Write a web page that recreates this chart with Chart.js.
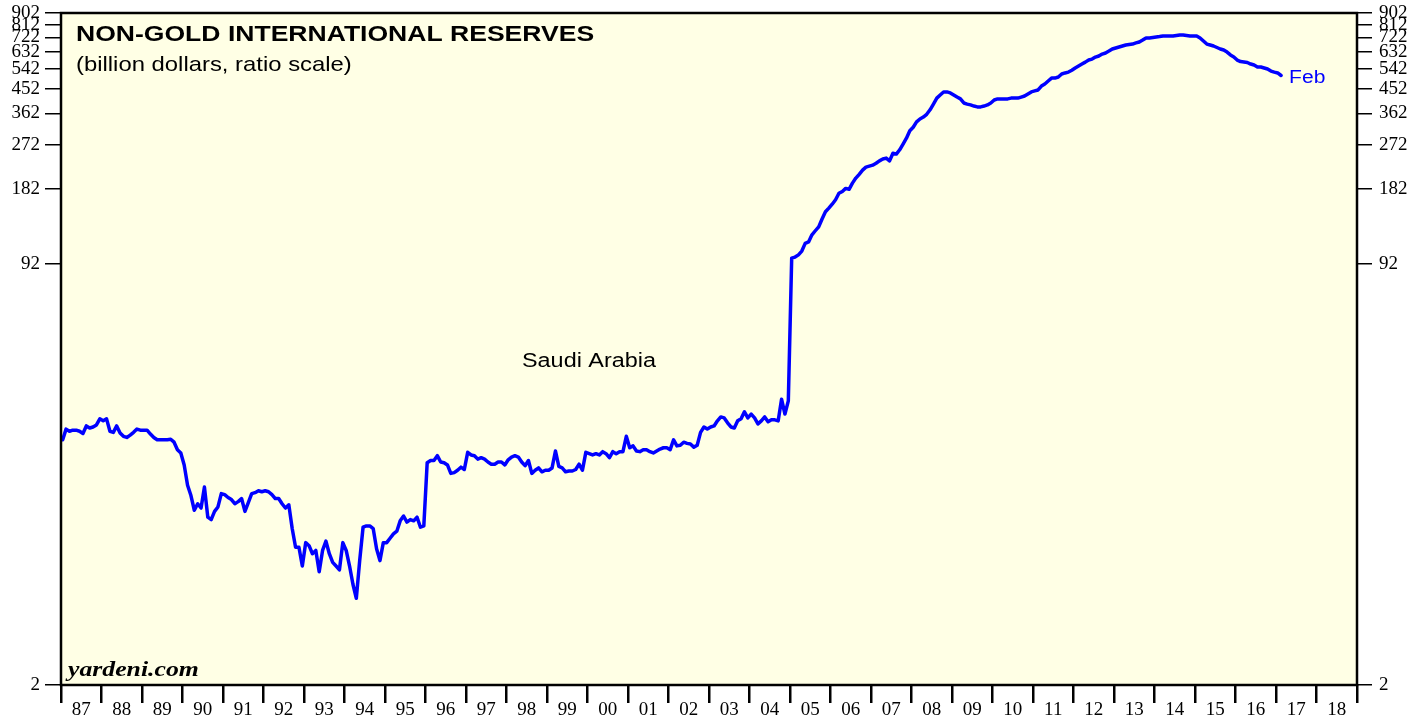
<!DOCTYPE html>
<html>
<head>
<meta charset="utf-8">
<title>Non-Gold International Reserves: Saudi Arabia</title>
<script src="https://cdn.jsdelivr.net/npm/chart.js@4.4.1/dist/chart.umd.min.js"></script>
<style>
  html, body { margin: 0; padding: 0; background: #ffffff; }
  #chart { display: block; }
</style>
</head>
<body>
<canvas id="chart" width="1427" height="717"></canvas>
<script>
// Monthly series starts in January of this year
const firstYear = 1987;

// Year labels along the bottom axis
const yearLabels = ['87', '88', '89', '90', '91', '92', '93', '94', '95', '96', '97',
  '98', '99', '00', '01', '02', '03', '04', '05', '06', '07', '08', '09', '10',
  '11', '12', '13', '14', '15', '16', '17', '18'];

// Ratio-scale tick values (billion dollars)
const yTickValues = [2, 92, 182, 272, 362, 452, 542, 632, 722, 812, 902];

// Saudi Arabia non-gold international reserves, billion dollars, monthly Jan 1987 - Feb 2017
const reserves = [
  18.6, 20.5, 20.1, 20.3, 20.3, 20.1, 19.7, 21.1, 20.7, 20.9, 21.3, 22.5,   // 1987
  22.1, 22.5, 20.1, 19.9, 21.1, 19.8, 19.2, 19.0, 19.4, 19.9, 20.5, 20.3,   // 1988
  20.3, 20.3, 19.6, 19.0, 18.6, 18.6, 18.6, 18.6, 18.7, 18.2, 17.0, 16.5,   // 1989
  14.8, 12.3, 11.2, 9.8, 10.4, 10.0, 12.1, 9.2, 9.0, 9.7, 10.1, 11.4,       // 1990
  11.3, 11.0, 10.8, 10.4, 10.6, 10.9, 9.7, 10.5, 11.4, 11.5, 11.7, 11.6,    // 1991
  11.7, 11.6, 11.3, 10.9, 10.9, 10.4, 10.0, 10.3, 8.3, 7.0, 7.0, 5.9,       // 1992
  7.3, 7.1, 6.6, 6.8, 5.6, 6.8, 7.4, 6.6, 6.1, 5.9, 5.7, 7.3,               // 1993
  6.8, 5.9, 5.0, 4.4, 6.2, 8.4, 8.5, 8.5, 8.3, 6.9, 6.2, 7.3,               // 1994
  7.3, 7.6, 7.9, 8.1, 8.9, 9.3, 8.8, 9.0, 8.9, 9.2, 8.4, 8.5,               // 1995
  15.1, 15.4, 15.4, 16.1, 15.2, 15.1, 14.8, 13.7, 13.8, 14.1, 14.5, 14.2,   // 1996
  16.6, 16.2, 16.1, 15.6, 15.8, 15.6, 15.2, 14.9, 14.9, 15.2, 15.2, 14.8,   // 1997
  15.5, 15.9, 16.1, 15.9, 15.2, 14.7, 15.4, 13.7, 14.1, 14.4, 13.9, 14.1,   // 1998
  14.1, 14.4, 16.8, 14.6, 14.4, 13.9, 14.0, 14.0, 14.2, 14.9, 14.1, 16.6,   // 1999
  16.4, 16.2, 16.4, 16.2, 16.7, 16.4, 15.8, 16.7, 16.4, 16.7, 16.7, 19.2,   // 2000
  17.3, 17.6, 16.8, 16.7, 17.0, 17.0, 16.7, 16.5, 16.8, 17.1, 17.3, 17.3,   // 2001
  17.0, 18.6, 17.6, 17.7, 18.2, 18.0, 17.9, 17.4, 17.7, 19.9, 20.9, 20.5,   // 2002
  20.9, 21.1, 22.1, 22.9, 22.7, 21.7, 20.9, 20.7, 22.1, 22.5, 24.0, 22.7,   // 2003
  23.5, 22.7, 21.5, 22.1, 22.9, 21.9, 22.3, 22.3, 22.1, 26.9, 23.5, 26.5,   // 2004
  97, 98, 100, 103.5, 111, 112.5, 120, 124.5, 129, 138.5, 148, 153,         // 2005
  158.5, 165, 175, 178, 183, 181.5, 192, 201, 208, 216, 222, 224,           // 2006
  226, 230, 235, 239, 241, 235, 252, 250, 260, 274, 289, 309,               // 2007
  319, 335, 344, 350, 359, 374, 394, 416, 428, 440, 440, 436,               // 2008
  428, 420, 413, 398, 394, 391, 387, 384, 384, 387, 391, 398,               // 2009
  409, 413, 413, 413, 413, 416, 416, 416, 420, 424, 432, 440,               // 2010
  444, 448, 464, 473, 486, 499, 499, 504, 518, 523, 527, 536,               // 2011
  547, 557, 567, 577, 588, 593, 604, 610, 621, 627, 638, 650,               // 2012
  656, 662, 668, 674, 677, 680, 687, 693, 705, 719, 719, 722,               // 2013
  725, 728, 732, 732, 732, 732, 735, 738, 738, 735, 732, 732,               // 2014
  732, 719, 699, 680, 674, 668, 659, 650, 644, 632, 616, 605,               // 2015
  588, 580, 578, 575, 567, 562, 552, 552, 547, 542, 532, 527,               // 2016
  523, 511                                                                  // 2017
];

const lastMonthLabel = 'Feb';
const chartTitle = 'NON-GOLD INTERNATIONAL RESERVES';
const chartSubtitle = '(billion dollars, ratio scale)';
const seriesName = 'Saudi Arabia';
const sourceNote = 'yardeni.com';

const points = reserves.map((v, i) => ({ x: firstYear + (i + 0.5) / 12, y: v }));
const lastYear = firstYear + yearLabels.length;

const SANS = '"Liberation Sans", Arial, Helvetica, sans-serif';
const SERIF = '"Liberation Serif", "Times New Roman", Times, serif';
const TEXT_STRETCH = 1.17;

function wideText(ctx, text, x, y, font, color) {
  ctx.save();
  ctx.font = font;
  ctx.fillStyle = color;
  ctx.textBaseline = 'alphabetic';
  ctx.textAlign = 'left';
  ctx.translate(x, y);
  ctx.scale(TEXT_STRETCH, 1);
  ctx.fillText(text, 0, 0);
  ctx.restore();
}

// Pale plot background, heavy frame and the text annotations
const decor = {
  id: 'decor',
  beforeDatasetsDraw(chart) {
    const { ctx, chartArea: a } = chart;
    ctx.save();
    ctx.fillStyle = '#ffffe5';
    ctx.fillRect(a.left, a.top, a.right - a.left, a.bottom - a.top);
    ctx.restore();
  },
  afterDatasetsDraw(chart) {
    const { ctx, chartArea: a, scales } = chart;
    ctx.save();
    ctx.strokeStyle = '#000000';
    ctx.lineWidth = 2.5;
    ctx.strokeRect(a.left, a.top, a.right - a.left, a.bottom - a.top);
    ctx.restore();

    wideText(ctx, chartTitle, a.left + 15, a.top + 28, 'bold 22.7px ' + SANS, '#000000');
    wideText(ctx, chartSubtitle, a.left + 15, a.top + 58, '20.4px ' + SANS, '#000000');
    wideText(ctx, seriesName, 522, 367, '20px ' + SANS, '#000000');
    wideText(ctx, sourceNote, a.left + 7, a.bottom - 9, 'italic bold 22px ' + SERIF, '#000000');

    const last = points[points.length - 1];
    const px = scales.x.getPixelForValue(last.x);
    const py = scales.y.getPixelForValue(last.y);
    wideText(ctx, lastMonthLabel, px + 8, py + 8, '18px ' + SANS, '#0000ff');
  }
};

function ratioAxis(position, width, tickLength, padding) {
  return {
    type: 'logarithmic',
    position: position,
    min: yTickValues[0],
    max: yTickValues[yTickValues.length - 1],
    afterBuildTicks(scale) {
      scale.ticks = yTickValues.map(v => ({ value: v }));
    },
    afterFit(scale) {
      scale.width = width;
      scale.paddingTop = 0;
      scale.paddingBottom = 0;
    },
    border: { display: false },
    grid: {
      drawOnChartArea: false,
      drawTicks: true,
      tickLength: tickLength,
      color: '#000000',
      lineWidth: 1.5
    },
    ticks: {
      autoSkip: false,
      padding: padding,
      color: '#000000',
      font: { family: SERIF, size: 19, lineHeight: 1 },
      callback: v => String(v)
    }
  };
}

new Chart(document.getElementById('chart'), {
  type: 'line',
  data: {
    datasets: [{
      label: seriesName,
      data: points,
      xAxisID: 'x',
      yAxisID: 'y',
      borderColor: '#0000ff',
      borderWidth: 3.5,
      pointRadius: 0,
      tension: 0,
      borderJoinStyle: 'round',
      borderCapStyle: 'round'
    }]
  },
  options: {
    responsive: false,
    animation: false,
    devicePixelRatio: 1,
    layout: { padding: { top: 13, left: 0, right: 0, bottom: 0 } },
    plugins: {
      legend: { display: false },
      tooltip: { enabled: false },
      title: { display: false }
    },
    scales: {
      x: {
        type: 'linear',
        min: firstYear,
        max: lastYear,
        display: false
      },
      years: {
        type: 'category',
        position: 'bottom',
        labels: yearLabels,
        offset: true,
        afterFit(scale) {
          scale.height = 32;
          scale.paddingLeft = 0;
          scale.paddingRight = 0;
        },
        border: { display: false },
        grid: {
          offset: true,
          drawOnChartArea: false,
          drawTicks: true,
          tickLength: 18,
          color: '#000000',
          lineWidth: 2.5
        },
        ticks: {
          autoSkip: false,
          maxRotation: 0,
          padding: -2,
          color: '#000000',
          font: { family: SERIF, size: 19, lineHeight: 1 }
        }
      },
      y: ratioAxis('left', 61, 16, 5),
      y2: ratioAxis('right', 70, 15, 7)
    }
  },
  plugins: [decor]
});
</script>
</body>
</html>
